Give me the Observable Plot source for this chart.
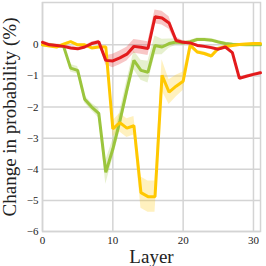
<!DOCTYPE html>
<html><head><meta charset="utf-8">
<script src="https://cdn.jsdelivr.net/npm/d3@7"></script>
<script src="https://cdn.jsdelivr.net/npm/@observablehq/plot@0.6"></script>
<style>
body{margin:0;background:#fff;}
svg [aria-label="y-axis label"] text, svg [aria-label="x-axis label"] text {font-size:19px;}
</style>
</head><body><div id="chart"></div>
<script>
const layers = [0,1,2,3,4,5,6,7,8,9,10,11,12,13,14,15,16,17,18,19,20,21,22,23,24,25,26,27,28,29,30,31];
const green  = [0,0,-0.03,-0.05,-0.75,-0.82,-1.75,-2.0,-2.2,-4.1,-3.35,-2.45,-1.45,-0.5,-0.82,-0.88,-0.02,-0.07,0.04,0.09,0.06,0.1,0.17,0.17,0.15,0.09,0.04,0.02,0.01,0,0,0];
const greenErr = [0.03,0.03,0.03,0.03,0.12,0.12,0.12,0.12,0.15,0.38,0.3,0.3,0.3,0.3,0.32,0.35,0.3,0.25,0.15,0.1,0.06,0.05,0.05,0.05,0.05,0.05,0.04,0.03,0.03,0.03,0.03,0.03];
const yellow = [0,-0.04,-0.07,0.02,0.1,0,0,-0.1,-0.07,-0.07,-2.7,-2.5,-2.68,-2.6,-4.75,-4.88,-4.88,-0.98,-1.52,-1.33,-1.17,-0.01,-0.23,-0.28,-0.36,-0.12,-0.06,-0.02,0.01,0.03,0.04,0.04];
const yellowErr = [0.03,0.03,0.03,0.03,0.03,0.03,0.03,0.03,0.03,0.05,0.25,0.3,0.3,0.3,0.5,0.5,0.5,0.5,0.4,0.35,0.3,0.1,0.06,0.06,0.06,0.05,0.04,0.03,0.03,0.03,0.03,0.03];
const red    = [0.08,0,-0.02,-0.05,-0.1,-0.13,-0.07,0.04,0.1,-0.5,-0.52,-0.42,-0.3,-0.05,-0.08,-0.12,0.9,0.86,0.7,0.14,0.08,0.06,-0.02,-0.05,-0.09,-0.14,-0.07,-0.25,-1.08,-1.01,-0.95,-0.9];
const redErr = [0.05,0.05,0.05,0.05,0.05,0.05,0.05,0.05,0.05,0.15,0.22,0.22,0.22,0.22,0.22,0.22,0.22,0.22,0.2,0.1,0.05,0.04,0.04,0.04,0.04,0.04,0.04,0.04,0.04,0.04,0.04,0.04];
const xTicks = [0,10,20,30];
const yTicks = [-6,-5,-4,-3,-2,-1,0];

const colors = {green:"#9bc53d", yellow:"#ffc800", red:"#e31a1c"};
const series = [
  {name:"green", vals:green, err:greenErr},
  {name:"yellow", vals:yellow, err:yellowErr},
  {name:"red", vals:red, err:redErr}
];
const rows = series.flatMap(s => layers.map((l,i) => ({s:s.name, layer:l, v:s.vals[i], lo:s.vals[i]-s.err[i], hi:s.vals[i]+s.err[i]})));

const marks = [
  Plot.gridX(xTicks, {stroke:"#d4d4d4", strokeOpacity:1, strokeWidth:1.5}),
  Plot.gridY(yTicks, {stroke:"#d4d4d4", strokeOpacity:1, strokeWidth:1.5}),
  Plot.frame({stroke:"#d4d4d4", strokeWidth:1.5})
];
for (const s of series) {
  const d = rows.filter(r => r.s === s.name);
  marks.push(Plot.areaY(d, {x:"layer", y1:"lo", y2:"hi", fill:colors[s.name], fillOpacity:0.25}));
}
for (const s of series) {
  const d = rows.filter(r => r.s === s.name);
  marks.push(Plot.lineY(d, {x:"layer", y:"v", stroke:colors[s.name], strokeWidth:3, strokeLinejoin:"miter"}));
}
marks.push(Plot.axisX(xTicks, {tickSize:0, tickPadding:5, label:"Layer", labelAnchor:"center", labelArrow:"none", labelOffset:31}));
marks.push(Plot.axisY(yTicks, {tickSize:0, tickPadding:4, label:"Change in probability (%)", labelAnchor:"center", labelArrow:"none", labelOffset:40}));

const chart = Plot.plot({
  width:266, height:266,
  marginLeft:42, marginRight:6, marginTop:2, marginBottom:35,
  x:{domain:[0,31]},
  y:{domain:[-6,1.36]},
  style:{fontFamily:"'Liberation Serif', serif", fontSize:"11px", color:"#222", background:"#fff"},
  marks
});
document.getElementById("chart").appendChild(chart);
</script>
</body></html>
